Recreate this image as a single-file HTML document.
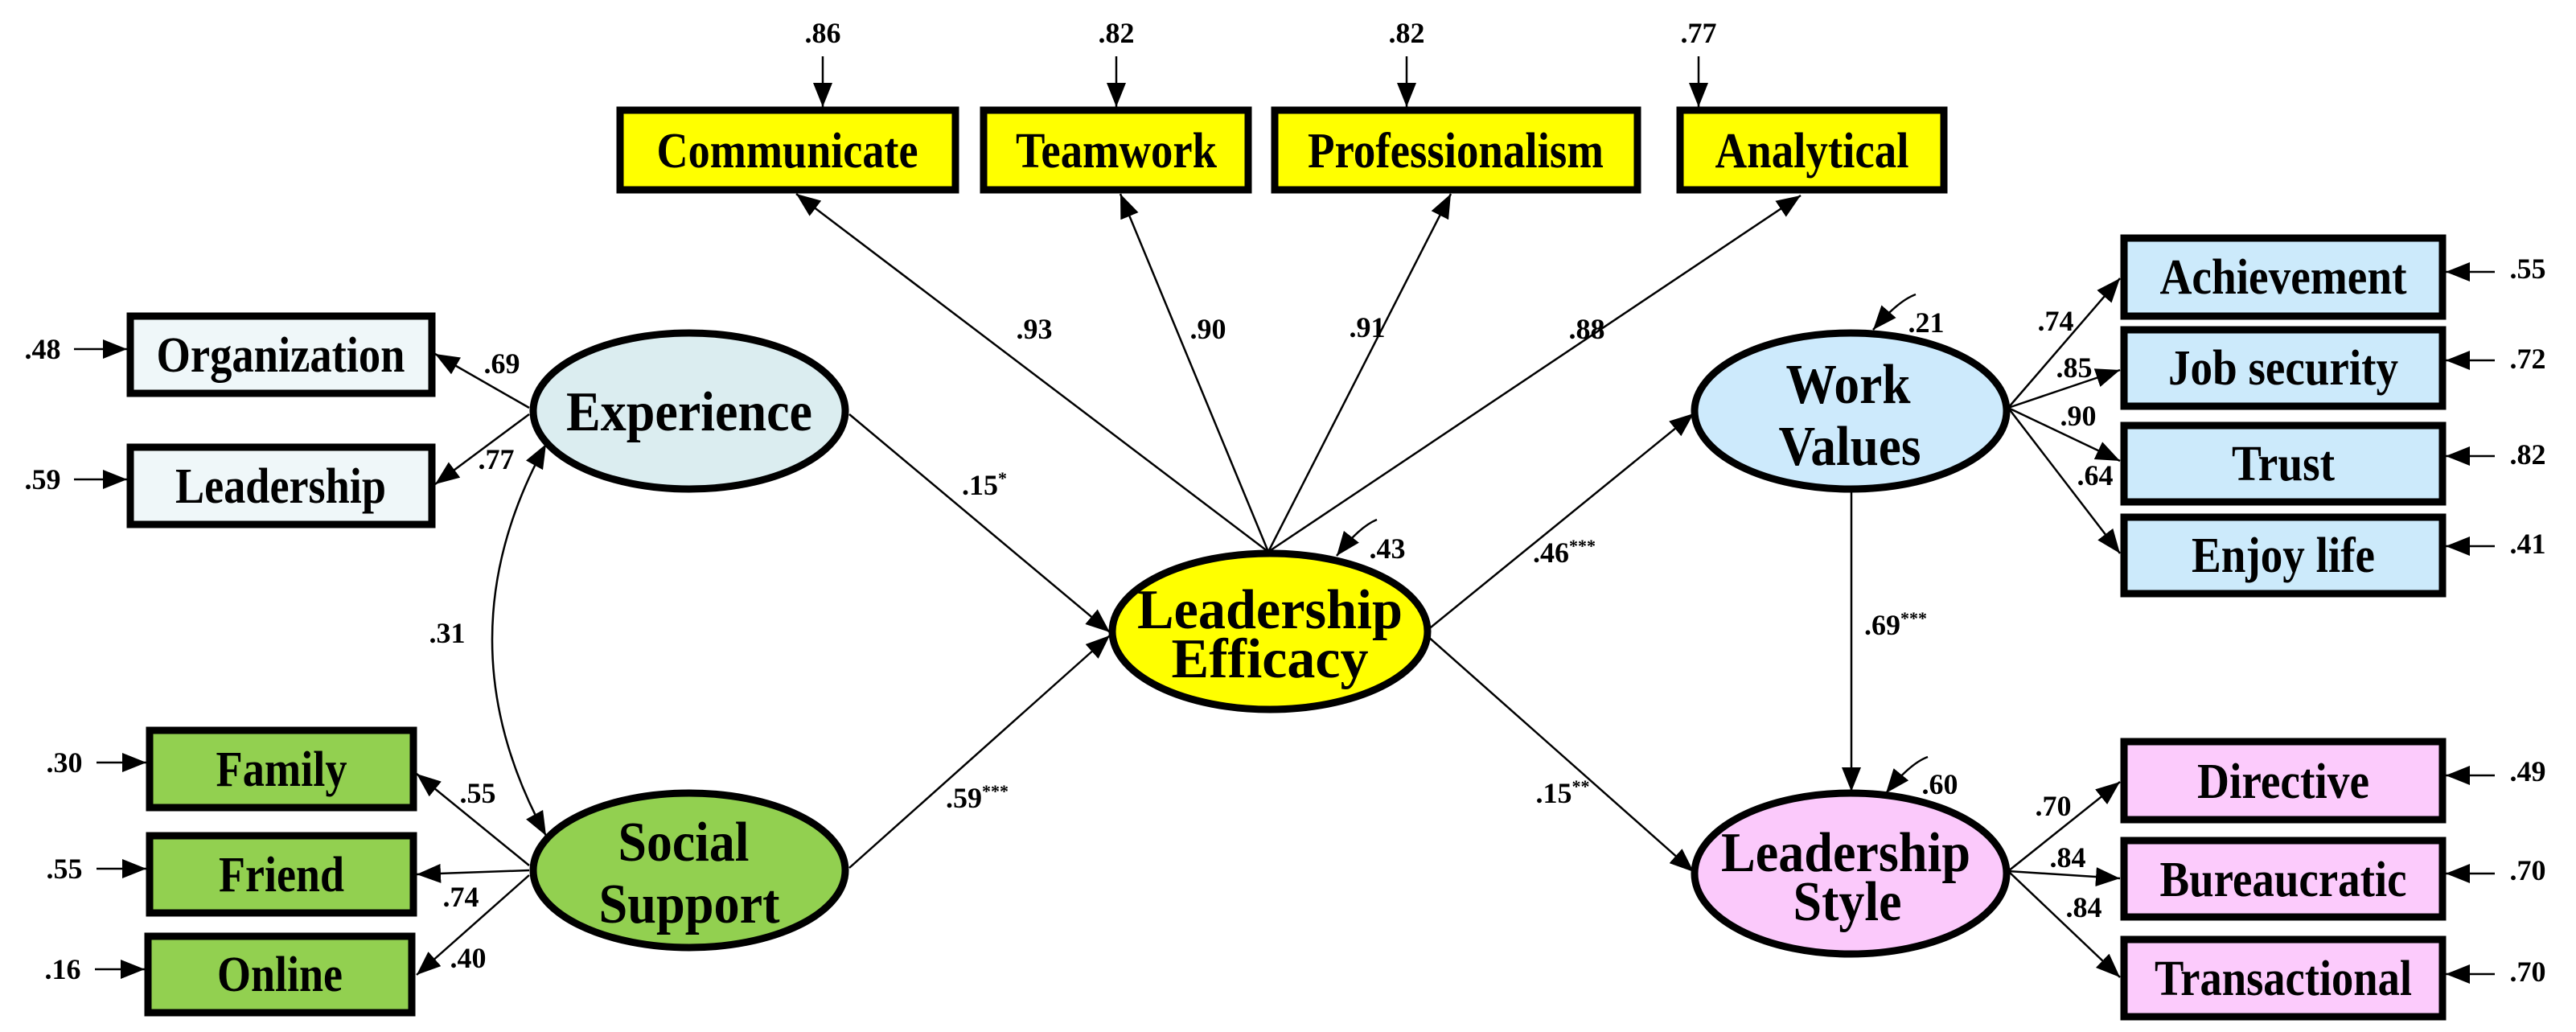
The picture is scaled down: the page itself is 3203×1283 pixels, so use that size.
<!DOCTYPE html>
<html><head><meta charset="utf-8"><style>
html,body{margin:0;padding:0;background:#fff;}
svg{display:block;}
text{font-family:"Liberation Serif",serif;font-weight:bold;fill:#000;}
.b{font-size:62px;}
.e{font-size:70px;}
.l{font-size:36px;}
</style></head><body>
<svg width="3203" height="1283" viewBox="0 0 3203 1283" xmlns="http://www.w3.org/2000/svg">
<defs>
<marker id="a" markerUnits="userSpaceOnUse" markerWidth="32" markerHeight="24" refX="30" refY="12" orient="auto"><path d="M0,0 L30,12 L0,24 Z" fill="#000"/></marker>
<marker id="s" markerUnits="userSpaceOnUse" markerWidth="32" markerHeight="24" refX="0" refY="12" orient="auto"><path d="M30,0 L0,12 L30,24 Z" fill="#000"/></marker>
</defs>
<g stroke="#000" stroke-width="2.5" fill="none">
<line x1="1023" y1="70" x2="1023" y2="133" marker-end="url(#a)"/>
<line x1="1388" y1="70" x2="1388" y2="133" marker-end="url(#a)"/>
<line x1="1749" y1="70" x2="1749" y2="133" marker-end="url(#a)"/>
<line x1="2112" y1="70" x2="2112" y2="133" marker-end="url(#a)"/>
<line x1="92" y1="434" x2="158" y2="434" marker-end="url(#a)"/>
<line x1="92" y1="596" x2="158" y2="596" marker-end="url(#a)"/>
<line x1="120" y1="948" x2="182" y2="948" marker-end="url(#a)"/>
<line x1="120" y1="1080" x2="182" y2="1080" marker-end="url(#a)"/>
<line x1="118" y1="1205" x2="180" y2="1205" marker-end="url(#a)"/>
<line x1="3102" y1="338" x2="3041" y2="338" marker-end="url(#a)"/>
<line x1="3102" y1="448" x2="3041" y2="448" marker-end="url(#a)"/>
<line x1="3102" y1="567" x2="3041" y2="567" marker-end="url(#a)"/>
<line x1="3102" y1="679" x2="3041" y2="679" marker-end="url(#a)"/>
<line x1="3102" y1="964" x2="3041" y2="964" marker-end="url(#a)"/>
<line x1="3102" y1="1086" x2="3041" y2="1086" marker-end="url(#a)"/>
<line x1="3102" y1="1211" x2="3041" y2="1211" marker-end="url(#a)"/>
<line x1="658" y1="507" x2="541" y2="440" marker-end="url(#a)"/>
<line x1="658" y1="515" x2="541" y2="602" marker-end="url(#a)"/>
<path d="M679,552 Q545,795 679,1039" marker-start="url(#s)" marker-end="url(#a)"/>
<line x1="658" y1="1076" x2="518" y2="962" marker-end="url(#a)"/>
<line x1="658" y1="1082" x2="518" y2="1087" marker-end="url(#a)"/>
<line x1="658" y1="1088" x2="518" y2="1212" marker-end="url(#a)"/>
<line x1="1056" y1="515" x2="1380" y2="786" marker-end="url(#a)"/>
<line x1="1056" y1="1079" x2="1380" y2="790" marker-end="url(#a)"/>
<line x1="1577" y1="686" x2="990" y2="241" marker-end="url(#a)"/>
<line x1="1577" y1="686" x2="1393" y2="241" marker-end="url(#a)"/>
<line x1="1577" y1="686" x2="1804" y2="241" marker-end="url(#a)"/>
<line x1="1577" y1="686" x2="2239" y2="243" marker-end="url(#a)"/>
<path d="M1712,646 Q1690,655 1662,691" marker-end="url(#a)"/>
<line x1="1774" y1="784" x2="2106" y2="514" marker-end="url(#a)"/>
<line x1="1774" y1="790" x2="2106" y2="1084" marker-end="url(#a)"/>
<line x1="2302" y1="610" x2="2302" y2="984" marker-end="url(#a)"/>
<path d="M2382,366 Q2360,374 2329,410" marker-end="url(#a)"/>
<path d="M2397,941 Q2375,949 2345,986" marker-end="url(#a)"/>
<line x1="2497" y1="507" x2="2636" y2="346" marker-end="url(#a)"/>
<line x1="2497" y1="507" x2="2636" y2="460" marker-end="url(#a)"/>
<line x1="2497" y1="507" x2="2636" y2="573" marker-end="url(#a)"/>
<line x1="2497" y1="507" x2="2636" y2="688" marker-end="url(#a)"/>
<line x1="2497" y1="1083" x2="2636" y2="972" marker-end="url(#a)"/>
<line x1="2497" y1="1083" x2="2636" y2="1092" marker-end="url(#a)"/>
<line x1="2497" y1="1083" x2="2636" y2="1215" marker-end="url(#a)"/>
</g>
<g stroke="#000" stroke-width="9">
<rect x="771" y="137" width="417" height="99" fill="#ffff00"/>
<rect x="1223" y="137" width="329" height="99" fill="#ffff00"/>
<rect x="1585" y="137" width="451" height="99" fill="#ffff00"/>
<rect x="2089" y="137" width="328" height="99" fill="#ffff00"/>
<rect x="162" y="393" width="375" height="96" fill="#eff7f9"/>
<rect x="162" y="556" width="375" height="96" fill="#eff7f9"/>
<rect x="186" y="908" width="328" height="96" fill="#92d050"/>
<rect x="186" y="1039" width="328" height="96" fill="#92d050"/>
<rect x="184" y="1164" width="328" height="95" fill="#92d050"/>
<rect x="2641" y="296" width="396" height="97" fill="#cceafb"/>
<rect x="2641" y="410" width="396" height="95" fill="#cceafb"/>
<rect x="2641" y="529" width="396" height="95" fill="#cceafb"/>
<rect x="2641" y="643" width="396" height="95" fill="#cceafb"/>
<rect x="2641" y="922" width="396" height="97" fill="#fccbfc"/>
<rect x="2641" y="1045" width="396" height="95" fill="#fccbfc"/>
<rect x="2641" y="1168" width="396" height="96" fill="#fccbfc"/>
<ellipse cx="857" cy="511" rx="194" ry="97" fill="#dbedf0"/>
<ellipse cx="857" cy="1082" rx="194" ry="96" fill="#92d050"/>
<ellipse cx="1579" cy="785" rx="196" ry="97" fill="#ffff00"/>
<ellipse cx="2301" cy="511" rx="194" ry="97" fill="#cdeafc"/>
<ellipse cx="2301" cy="1086" rx="194" ry="100" fill="#fbc9fb"/>
</g>
<g class="b" text-anchor="middle">
<text x="979" y="208" textLength="325" lengthAdjust="spacingAndGlyphs">Communicate</text>
<text x="1388" y="208" textLength="250" lengthAdjust="spacingAndGlyphs">Teamwork</text>
<text x="1810" y="208" textLength="368" lengthAdjust="spacingAndGlyphs">Professionalism</text>
<text x="2253" y="208" textLength="241" lengthAdjust="spacingAndGlyphs">Analytical</text>
<text x="349" y="462" textLength="309" lengthAdjust="spacingAndGlyphs">Organization</text>
<text x="349" y="625" textLength="262" lengthAdjust="spacingAndGlyphs">Leadership</text>
<text x="350" y="977" textLength="163" lengthAdjust="spacingAndGlyphs">Family</text>
<text x="350" y="1108" textLength="156" lengthAdjust="spacingAndGlyphs">Friend</text>
<text x="348" y="1232" textLength="156" lengthAdjust="spacingAndGlyphs">Online</text>
<text x="2839" y="365" textLength="307" lengthAdjust="spacingAndGlyphs">Achievement</text>
<text x="2839" y="478" textLength="286" lengthAdjust="spacingAndGlyphs">Job security</text>
<text x="2839" y="597" textLength="128" lengthAdjust="spacingAndGlyphs">Trust</text>
<text x="2839" y="711" textLength="228" lengthAdjust="spacingAndGlyphs">Enjoy life</text>
<text x="2839" y="992" textLength="214" lengthAdjust="spacingAndGlyphs">Directive</text>
<text x="2839" y="1114" textLength="307" lengthAdjust="spacingAndGlyphs">Bureaucratic</text>
<text x="2839" y="1237" textLength="320" lengthAdjust="spacingAndGlyphs">Transactional</text>
</g>
<g class="e" text-anchor="middle">
<text x="857" y="535" textLength="306" lengthAdjust="spacingAndGlyphs">Experience</text>
<text x="850" y="1070" textLength="163" lengthAdjust="spacingAndGlyphs">Social</text>
<text x="857" y="1147" textLength="225" lengthAdjust="spacingAndGlyphs">Support</text>
<text x="1579" y="781" textLength="330" lengthAdjust="spacingAndGlyphs">Leadership</text>
<text x="1579" y="842" textLength="245" lengthAdjust="spacingAndGlyphs">Efficacy</text>
<text x="2298" y="501" textLength="155" lengthAdjust="spacingAndGlyphs">Work</text>
<text x="2300" y="578" textLength="177" lengthAdjust="spacingAndGlyphs">Values</text>
<text x="2295" y="1083" textLength="310" lengthAdjust="spacingAndGlyphs">Leadership</text>
<text x="2297" y="1144" textLength="135" lengthAdjust="spacingAndGlyphs">Style</text>
</g>
<g class="l" text-anchor="middle">
<text x="1023" y="53">.86</text><text x="1388" y="53">.82</text><text x="1749" y="53">.82</text><text x="2112" y="53">.77</text>
<text x="53" y="446">.48</text><text x="53" y="608">.59</text><text x="80" y="960">.30</text><text x="80" y="1092">.55</text><text x="78" y="1217">.16</text>
<text x="3143" y="346">.55</text><text x="3143" y="458">.72</text><text x="3143" y="577">.82</text><text x="3143" y="688">.41</text>
<text x="3143" y="971">.49</text><text x="3143" y="1094">.70</text><text x="3143" y="1220">.70</text>
<text x="624" y="464">.69</text><text x="617" y="583">.77</text><text x="556" y="799">.31</text>
<text x="594" y="998">.55</text><text x="573" y="1127">.74</text><text x="582" y="1203">.40</text>
<text x="1224" y="615">.15<tspan font-size="22" dy="-13">*</tspan></text>
<text x="1215" y="1004">.59<tspan font-size="22" dy="-13">***</tspan></text>
<text x="1286" y="421">.93</text><text x="1502" y="421">.90</text><text x="1700" y="419">.91</text><text x="1973" y="421">.88</text>
<text x="1725" y="694">.43</text>
<text x="1945" y="699">.46<tspan font-size="22" dy="-13">***</tspan></text>
<text x="1943" y="998">.15<tspan font-size="22" dy="-13">**</tspan></text>
<text x="2357" y="789">.69<tspan font-size="22" dy="-13">***</tspan></text>
<text x="2395" y="413">.21</text><text x="2412" y="987">.60</text>
<text x="2556" y="411">.74</text><text x="2579" y="469">.85</text><text x="2584" y="529">.90</text><text x="2605" y="603">.64</text>
<text x="2553" y="1014">.70</text><text x="2571" y="1078">.84</text><text x="2591" y="1140">.84</text>
</g>
</svg>
</body></html>
